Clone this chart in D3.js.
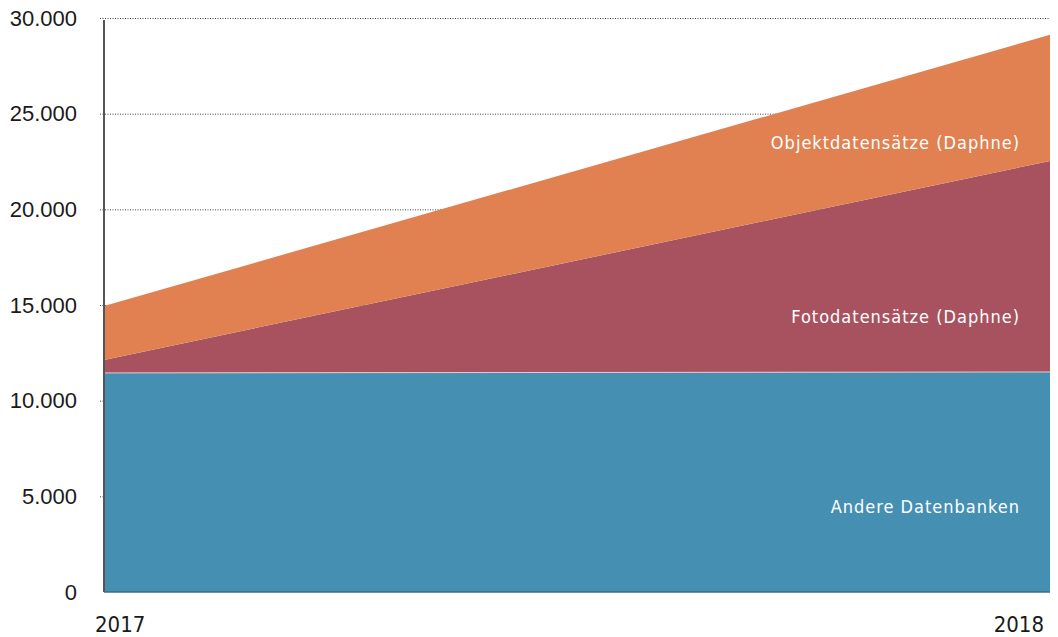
<!DOCTYPE html>
<html>
<head>
<meta charset="utf-8">
<script src="https://cdn.jsdelivr.net/npm/d3@7"></script>
<style>
  body { margin: 0; background: #fff; }
  svg { display: block; font-family: "DejaVu Sans Condensed", "Liberation Sans Narrow", sans-serif; font-stretch: condensed; }
</style>
</head>
<body>
<svg id="chart"></svg>
<script>
// Data
const years = ["2017", "2018"];
const andere = [11450, 11500];
const foto = [680, 11030];
const objekt = [2820, 6590];
const seriesNames = ["Andere Datenbanken", "Fotodatensätze (Daphne)", "Objektdatensätze (Daphne)"];
const seriesColors = ["#458fb2", "#a8525f", "#e18152"];
const yTicks = [0, 5000, 10000, 15000, 20000, 25000, 30000];

const width = 1058;
const height = 637;
const marginTop = 18;
const marginRight = 8;
const marginBottom = 45;
const marginLeft = 104;

const rows = years.map((yr, i) => ({ year: yr, a: andere[i], f: foto[i], o: objekt[i] }));
const stacked = d3.stack().keys(["a", "f", "o"])(rows);

const x = d3.scalePoint(years, [marginLeft, width - marginRight]);
const y = d3.scaleLinear([0, 30000], [height - marginBottom, marginTop]);

const svg = d3.select("#chart")
    .attr("width", width)
    .attr("height", height)
    .attr("viewBox", [0, 0, width, height]);

// Grid lines (dotted)
svg.append("g")
    .selectAll("line")
    .data(yTicks.filter(d => d > 0))
    .join("line")
    .attr("x1", marginLeft - 4)
    .attr("x2", width - marginRight)
    .attr("y1", d => y(d) + 0.5)
    .attr("y2", d => y(d) + 0.5)
    .attr("stroke", "#444")
    .attr("stroke-width", 1)
    .attr("stroke-dasharray", "1,1.5");

// Areas
const area = d3.area()
    .x(d => x(d.data.year))
    .y0(d => y(d[0]))
    .y1(d => y(d[1]));

svg.append("g")
    .selectAll("path")
    .data(stacked)
    .join("path")
    .attr("fill", (d, i) => seriesColors[i])
    .attr("d", area);

// thin light line between blue and red
svg.append("path")
    .attr("fill", "none")
    .attr("stroke", "#e8c8cc")
    .attr("stroke-width", 1)
    .attr("d", d3.line().x(d => x(d.data.year)).y(d => y(d[1]))(stacked[0]));

// Y axis
svg.append("g")
    .attr("transform", `translate(${marginLeft},0)`)
    .call(d3.axisLeft(y).tickValues(yTicks).tickSize(0).tickPadding(27)
        .tickFormat(d => d3.format(",")(d).replace(/,/g, ".")))
    .call(g => g.select(".domain").remove())
    .call(g => g.selectAll("text")
        .attr("font-size", 22)
        .attr("font-family", null)
        .attr("fill", "#1a1a1a"));

svg.append("line")
    .attr("x1", marginLeft)
    .attr("x2", marginLeft)
    .attr("y1", y(30000) + 2)
    .attr("y2", y(0))
    .attr("stroke", "#555")
    .attr("stroke-width", 2);

// bottom line
svg.append("line")
    .attr("x1", marginLeft)
    .attr("x2", width - marginRight)
    .attr("y1", y(0))
    .attr("y2", y(0))
    .attr("stroke", "#3b6c84")
    .attr("stroke-width", 1.5);

// X labels
svg.append("g")
    .selectAll("text")
    .data(years)
    .join("text")
    .attr("x", (d, i) => i === 0 ? x(d) - 9 : x(d) - 6)
    .attr("y", height - 5)
    .attr("text-anchor", (d, i) => i === 0 ? "start" : "end")
    .attr("font-size", 22)
    .attr("fill", "#1a1a1a")
    .text(d => d);

// Series labels
const labelY = [4440, 14380, 23470];
svg.append("g")
    .selectAll("text")
    .data(seriesNames)
    .join("text")
    .attr("x", width - marginRight - 30)
    .attr("y", (d, i) => y(labelY[i]))
    .attr("dy", "0.35em")
    .attr("text-anchor", "end")
    .attr("font-size", 18)
    .attr("letter-spacing", "1px")
    .attr("fill", "#fff")
    .text(d => d);
</script>
</body>
</html>
